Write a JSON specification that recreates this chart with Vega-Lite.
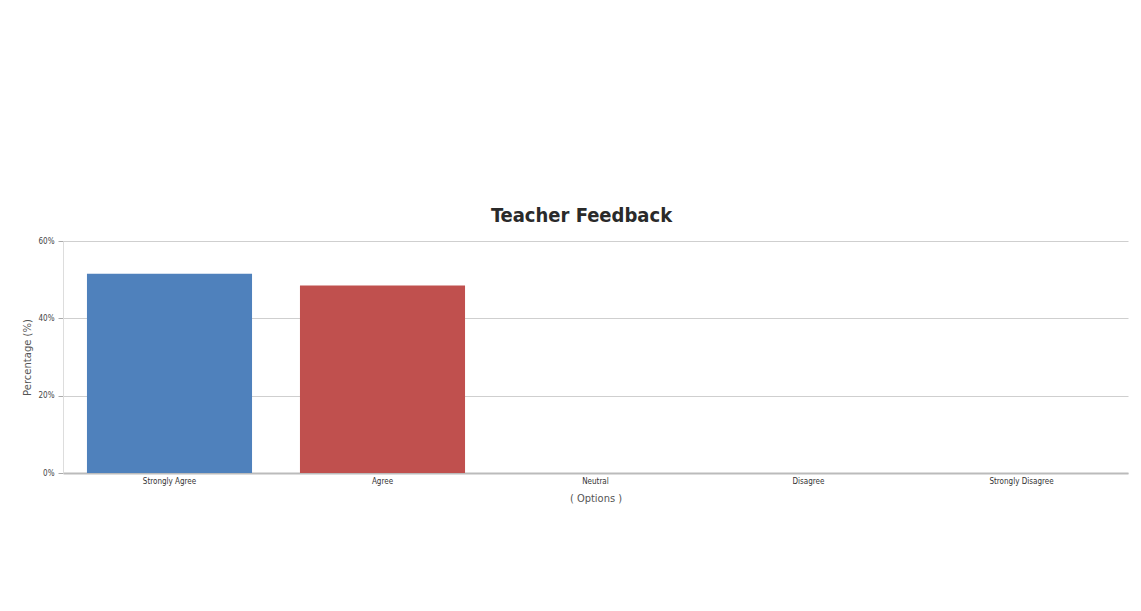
{
  "$schema": "https://vega.github.io/schema/vega-lite/v6.json",
  "width": 1065,
  "height": 232,
  "autosize": {"type": "none"},
  "padding": {"left": 63, "top": 241, "right": 13, "bottom": 138},
  "background": "white",
  "title": {
    "text": "Teacher Feedback",
    "font": "DejaVu Sans Condensed, DejaVu Sans, sans-serif",
    "fontSize": 20,
    "fontWeight": "bold",
    "color": "#2a2a2a",
    "anchor": "middle",
    "dx": -14,
    "offset": 11
  },
  "data": {
    "values": [
      {"option": "Strongly Agree", "percent": 51.5},
      {"option": "Agree", "percent": 48.5},
      {"option": "Neutral", "percent": 0},
      {"option": "Disagree", "percent": 0},
      {"option": "Strongly Disagree", "percent": 0}
    ]
  },
  "mark": {"type": "bar"},
  "encoding": {
    "x": {
      "field": "option",
      "type": "nominal",
      "sort": null,
      "scale": {"paddingInner": 0.225, "paddingOuter": 0.1125},
      "axis": {
        "title": "( Options )",
        "titleFont": "DejaVu Sans Condensed, DejaVu Sans, sans-serif",
        "titleFontWeight": "normal",
        "titleFontSize": 11,
        "titleColor": "#555",
        "titlePadding": 7,
        "labelAngle": 0,
        "labelFont": "DejaVu Sans Condensed, DejaVu Sans, sans-serif",
        "labelFontSize": 8,
        "labelColor": "#333",
        "labelPadding": 4,
        "domainColor": "#bbb",
        "domainWidth": 2,
        "ticks": false
      }
    },
    "y": {
      "field": "percent",
      "type": "quantitative",
      "scale": {"domain": [0, 60]},
      "axis": {
        "title": "Percentage (%)",
        "titleFont": "DejaVu Sans, sans-serif",
        "titleFontWeight": "normal",
        "titleFontSize": 10,
        "titleColor": "#555",
        "titlePadding": 6,
        "values": [0, 20, 40, 60],
        "labelExpr": "datum.value + '%'",
        "labelFont": "DejaVu Sans Condensed, DejaVu Sans, sans-serif",
        "labelFontSize": 8,
        "labelColor": "#444",
        "labelPadding": 4,
        "tickColor": "#aaa",
        "tickSize": 5,
        "domainColor": "#ddd",
        "gridColor": "#cfcfcf",
        "gridWidth": 1
      }
    },
    "color": {
      "field": "option",
      "type": "nominal",
      "sort": null,
      "scale": {
        "domain": ["Strongly Agree", "Agree", "Neutral", "Disagree", "Strongly Disagree"],
        "range": ["#4F81BC", "#C0504E", "#9BBB58", "#23BFAA", "#8064A1"]
      },
      "legend": null
    }
  },
  "config": {
    "view": {"stroke": null}
  }
}
